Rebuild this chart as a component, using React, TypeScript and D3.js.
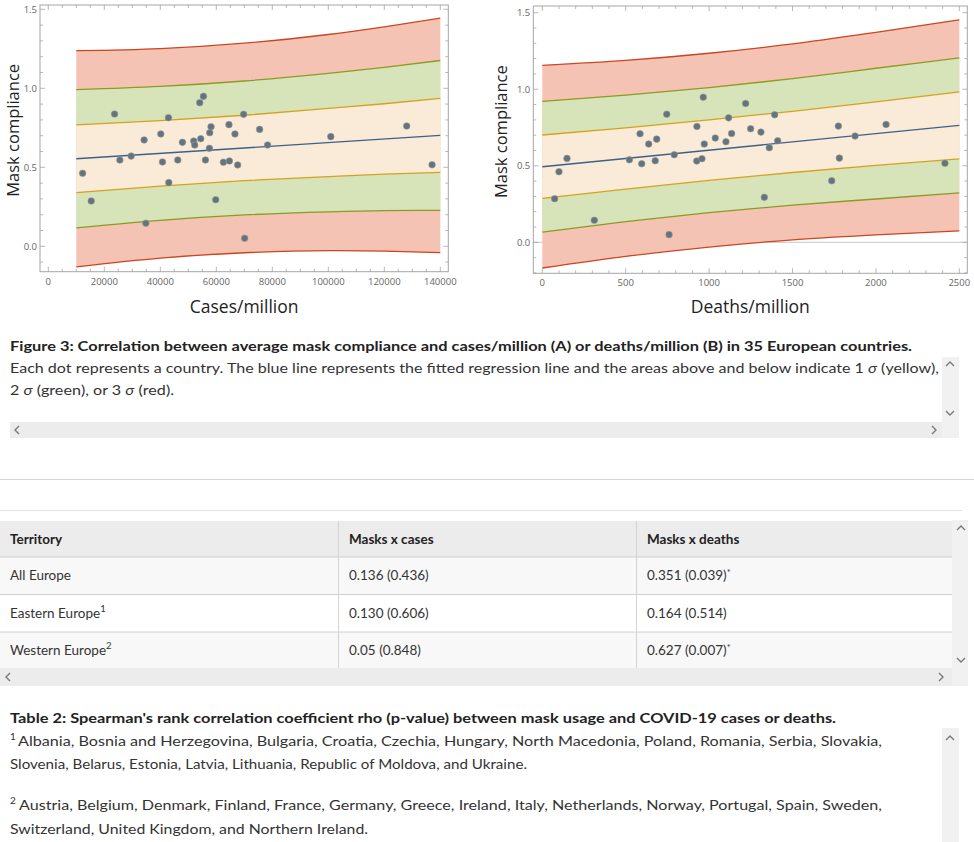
import React from "react";
import * as d3 from "d3";

// ---------- DATA ----------
const casesX = [12260, 15330, 23670, 25560, 29590, 34220, 34830, 40180, 40780, 42920, 43030, 46240, 47910, 51940, 52300, 54080, 55400, 54440, 56120, 57650, 58120, 57540, 59790, 62540, 64530, 64670, 66670, 67630, 69760, 70120, 75470, 78320, 100890, 128000, 137060];
const casesY = [0.462, 0.287, 0.837, 0.546, 0.571, 0.673, 0.146, 0.711, 0.534, 0.814, 0.403, 0.546, 0.658, 0.666, 0.641, 0.909, 0.949, 0.681, 0.546, 0.719, 0.757, 0.62, 0.295, 0.532, 0.77, 0.54, 0.711, 0.515, 0.835, 0.051, 0.74, 0.641, 0.694, 0.761, 0.516];

const deathsX = [74, 100, 148, 312, 522, 586, 596, 638, 677, 686, 746, 760, 791, 927, 926, 957, 965, 971, 1037, 1101, 1117, 1135, 1219, 1249, 1311, 1393, 1361, 1411, 1331, 1735, 1775, 1781, 1875, 2061, 2414];
const deathsY = [0.285, 0.461, 0.548, 0.144, 0.539, 0.709, 0.513, 0.642, 0.533, 0.674, 0.837, 0.05, 0.572, 0.757, 0.531, 0.546, 0.948, 0.642, 0.681, 0.657, 0.813, 0.711, 0.907, 0.742, 0.72, 0.833, 0.618, 0.663, 0.294, 0.402, 0.759, 0.55, 0.694, 0.77, 0.516];

// fitted regression line (value at first and last band x)
const casesBandX = [10000, 40000, 70000, 100000, 120000, 140000];
const casesFit = [0.554, 0.702];
const casesSigma1 = [0.214, 0.207, 0.207, 0.216, 0.223, 0.234];
const casesSigma2 = [0.438, 0.424, 0.424, 0.438, 0.453, 0.474];
const casesSigma3 = [0.684, 0.663, 0.663, 0.684, 0.71, 0.742];

const deathsBandX = [0, 500, 1000, 1500, 2000, 2500];
const deathsFit = [0.494, 0.764];
const deathsSigma1 = [0.207, 0.2, 0.198, 0.2, 0.207, 0.219];
const deathsSigma2 = [0.427, 0.413, 0.408, 0.413, 0.427, 0.441];
const deathsSigma3 = [0.662, 0.64, 0.633, 0.64, 0.662, 0.69];

const casesTicks = [0, 20000, 40000, 60000, 80000, 100000, 120000, 140000];
const deathsTicks = [0, 500, 1000, 1500, 2000, 2500];
const yTicks = [0, 0.5, 1.0, 1.5];

const tableHeader = ["Territory", "Masks x cases", "Masks x deaths"];
const tableTerritory = ["All Europe", "Eastern Europe", "Western Europe"];
const tableTerritorySup = ["", "1", "2"];
const tableCases = ["0.136 (0.436)", "0.130 (0.606)", "0.05 (0.848)"];
const tableDeaths = ["0.351 (0.039)", "0.164 (0.514)", "0.627 (0.007)"];
const tableDeathsStar = [true, false, true];

// ---------- STYLE ----------
const C = {
  redFill: "#f5c3b3",
  greenFill: "#d7e3b9",
  yellowFill: "#f9ebd7",
  redLine: "#cc4422",
  greenLine: "#8c9b22",
  yellowLine: "#d6a21e",
  blue: "#3f5f88",
  dot: "#66737b",
  frame: "#a6a6a6",
  tickText: "#666",
  text: "#333",
};
const CHART_FONT = "'Open Sans', 'DejaVu Sans', sans-serif";
const PAGE_FONT = "Lato, 'Open Sans', sans-serif";

type PanelProps = {
  frame: { l: number; r: number; t: number; b: number };
  xDomain: [number, number];
  xRange: [number, number];
  yRange: [number, number];
  xs: number[];
  ys: number[];
  bandX: number[];
  fit: number[];
  s1: number[];
  s2: number[];
  s3: number[];
  xTicks: number[];
  xMinorStep: number;
  xLabel: string;
  yLabelX: number;
  zeroLine: boolean;
};

function Panel(p: PanelProps) {
  const x = d3.scaleLinear().domain(p.xDomain).range(p.xRange);
  const y = d3.scaleLinear().domain([0, 1.5]).range(p.yRange);
  const center = d3
    .scaleLinear()
    .domain([p.bandX[0], p.bandX[p.bandX.length - 1]])
    .range(p.fit);
  const idx = p.bandX.map((_, i) => i);
  const area = (s: number[]) =>
    d3
      .area<number>()
      .x((i) => x(p.bandX[i]))
      .y0((i) => y(center(p.bandX[i]) - s[i]))
      .y1((i) => y(center(p.bandX[i]) + s[i]))
      .curve(d3.curveMonotoneX)(idx) || "";
  const edge = (s: number[], sign: number) =>
    d3
      .line<number>()
      .x((i) => x(p.bandX[i]))
      .y((i) => y(center(p.bandX[i]) + sign * s[i]))
      .curve(d3.curveMonotoneX)(idx) || "";

  const { l, r, t, b } = p.frame;
  const xMin = x.invert(l);
  const xMax = x.invert(r);
  const xMinor = d3.range(Math.ceil(xMin / p.xMinorStep) * p.xMinorStep, xMax, p.xMinorStep);
  const yMin = y.invert(b);
  const yMax = y.invert(t);
  const yMinor = d3.range(Math.ceil(yMin * 10) / 10, yMax, 0.1).map((v) => Math.round(v * 10) / 10);
  const isMajorX = (v: number) => p.xTicks.some((m) => Math.abs(m - v) < 1e-6);
  const isMajorY = (v: number) => yTicks.some((m) => Math.abs(m - v) < 1e-6);

  return (
    <g>
      {p.zeroLine && (
        <line x1={l} x2={r} y1={y(0)} y2={y(0)} stroke="#c8c8c8" strokeWidth={1} />
      )}
      <path d={area(p.s3)} fill={C.redFill} />
      <path d={area(p.s2)} fill={C.greenFill} />
      <path d={area(p.s1)} fill={C.yellowFill} />
      {[1, -1].map((sg) => (
        <g key={sg} fill="none" strokeWidth={1.3}>
          <path d={edge(p.s3, sg)} stroke={C.redLine} />
          <path d={edge(p.s2, sg)} stroke={C.greenLine} />
          <path d={edge(p.s1, sg)} stroke={C.yellowLine} />
        </g>
      ))}
      <line
        x1={x(p.bandX[0])}
        x2={x(p.bandX[p.bandX.length - 1])}
        y1={y(p.fit[0])}
        y2={y(p.fit[1])}
        stroke={C.blue}
        strokeWidth={1.4}
      />
      {p.xs.map((v, i) => (
        <circle key={i} cx={x(v)} cy={y(p.ys[i])} r={3.3} fill={C.dot} stroke="#8f999f" strokeWidth={0.6} />
      ))}
      {/* frame */}
      <rect x={l} y={t} width={r - l} height={b - t} fill="none" stroke={C.frame} strokeWidth={1} />
      {xMinor.map((v) => {
        const len = isMajorX(v) ? 5 : 3;
        return (
          <g key={"xt" + v} stroke={C.frame} strokeWidth={0.8}>
            <line x1={x(v)} x2={x(v)} y1={b} y2={b - len} />
            <line x1={x(v)} x2={x(v)} y1={t} y2={t + len} />
          </g>
        );
      })}
      {yMinor.map((v) => {
        const len = isMajorY(v) ? 5 : 3;
        return (
          <g key={"yt" + v} stroke={C.frame} strokeWidth={0.8}>
            <line x1={l} x2={l + len} y1={y(v)} y2={y(v)} />
            <line x1={r} x2={r - len} y1={y(v)} y2={y(v)} />
          </g>
        );
      })}
      {p.xTicks.map((v) => (
        <text key={"xl" + v} x={x(v)} y={b + 13} textAnchor="middle" fontSize={9.5} fill={C.tickText} fontFamily={CHART_FONT}>
          {v}
        </text>
      ))}
      {yTicks.map((v) => (
        <text key={"yl" + v} x={l - 3} y={y(v) + 3.3} textAnchor="end" fontSize={9.5} fill={C.tickText} fontFamily={CHART_FONT}>
          {v.toFixed(1)}
        </text>
      ))}
      <text x={(p.frame.l + p.frame.r) / 2} y={313} textAnchor="middle" fontSize={17.5} fill="#222" fontFamily={CHART_FONT}>
        {p.xLabel}
      </text>
      <text
        transform={`translate(${p.yLabelX},${(t + b) / 2 - 8}) rotate(-90)`}
        textAnchor="middle"
        fontSize={16.5}
        fill="#222"
        fontFamily={CHART_FONT}
      >
        Mask compliance
      </text>
    </g>
  );
}

function Chevron({ x, y, dir }: { x: number; y: number; dir: "up" | "down" | "left" | "right" }) {
  let d = "";
  if (dir === "up") d = `M${x - 4},${y + 2} L${x},${y - 2} L${x + 4},${y + 2}`;
  if (dir === "down") d = `M${x - 4},${y - 2} L${x},${y + 2} L${x + 4},${y - 2}`;
  if (dir === "left") d = `M${x + 2},${y - 4} L${x - 2},${y} L${x + 2},${y + 4}`;
  if (dir === "right") d = `M${x - 2},${y - 4} L${x + 2},${y} L${x - 2},${y + 4}`;
  return <path d={d} fill="none" stroke="#7a7a7a" strokeWidth={1.4} />;
}

export default function App() {
  const rowTop = [557, 594.5, 632];
  const rowH = [37.5, 37.5, 36];
  const colX = [10, 349, 647];
  return (
    <svg
      width={974}
      height={842}
      style={{ position: "absolute", left: 0, top: 0, background: "#fff" }}
      fontFamily={PAGE_FONT}
    >
      <rect x={0} y={0} width={974} height={842} fill="#fff" />
      <Panel
        frame={{ l: 40, r: 448.3, t: 5, b: 271.7 }}
        xDomain={[0, 140000]}
        xRange={[48.3, 440.3]}
        yRange={[246.3, 9.3]}
        xs={casesX}
        ys={casesY}
        bandX={casesBandX}
        fit={casesFit}
        s1={casesSigma1}
        s2={casesSigma2}
        s3={casesSigma3}
        xTicks={casesTicks}
        xMinorStep={5000}
        xLabel="Cases/million"
        yLabelX={18.5}
        zeroLine={false}
      />
      <Panel
        frame={{ l: 533.3, r: 967.3, t: 6, b: 273.3 }}
        xDomain={[0, 2500]}
        xRange={[542.3, 959.3]}
        yRange={[242.3, 12.7]}
        xs={deathsX}
        ys={deathsY}
        bandX={deathsBandX}
        fit={deathsFit}
        s1={deathsSigma1}
        s2={deathsSigma2}
        s3={deathsSigma3}
        xTicks={deathsTicks}
        xMinorStep={100}
        xLabel="Deaths/million"
        yLabelX={507}
        zeroLine={true}
      />

      {/* Figure caption */}
      <rect x={942} y={357} width={17} height={81} fill="#f1f1f1" />
      <rect x={10} y={422} width={932} height={16} fill="#ececec" />
      <Chevron x={950} y={364} dir="up" />
      <Chevron x={950} y={413} dir="down" />
      <Chevron x={17} y={430} dir="left" />
      <Chevron x={934} y={430} dir="right" />
      <text x={10} y={351} fontSize={14} fontWeight="bold" fill="#222" textLength={902} lengthAdjust="spacingAndGlyphs">
        Figure 3: Correlation between average mask compliance and cases/million (A) or deaths/million (B) in 35 European countries.
      </text>
      <text x={10} y={373} fontSize={14} fill={C.text} textLength={929} lengthAdjust="spacingAndGlyphs">
        Each dot represents a country. The blue line represents the fitted regression line and the areas above and below indicate 1{" "}
        <tspan fontStyle="italic">σ</tspan> (yellow),
      </text>
      <text x={10} y={395} fontSize={14} fill={C.text} textLength={164} lengthAdjust="spacingAndGlyphs">
        2 <tspan fontStyle="italic">σ</tspan> (green), or 3 <tspan fontStyle="italic">σ</tspan> (red).
      </text>

      {/* separators */}
      <line x1={0} x2={974} y1={479.5} y2={479.5} stroke="#d6d6d6" />
      <line x1={0} x2={962} y1={510.5} y2={510.5} stroke="#e2e2e2" />

      {/* Table */}
      <rect x={0} y={521} width={952} height={36} fill="#ececec" />
      {rowTop.map((rt, i) => (
        <rect key={"row" + i} x={0} y={rt} width={952} height={rowH[i]} fill={i === 1 ? "#ffffff" : "#f8f8f8"} />
      ))}
      {rowTop.map((rt, i) => (
        <line key={"rl" + i} x1={0} x2={952} y1={rt} y2={rt} stroke="#d0d0d0" />
      ))}
      <line x1={338.5} x2={338.5} y1={521} y2={668} stroke="#d4d4d4" />
      <line x1={636.5} x2={636.5} y1={521} y2={668} stroke="#d4d4d4" />
      <rect x={952} y={520} width={16} height={166} fill="#f1f1f1" />
      <rect x={0} y={668} width={952} height={18} fill="#ececec" />
      <Chevron x={961} y={528} dir="up" />
      <Chevron x={961} y={660} dir="down" />
      <Chevron x={8} y={677} dir="left" />
      <Chevron x={941} y={677} dir="right" />
      {tableHeader.map((h, i) => (
        <text key={"th" + i} x={colX[i]} y={544} fontSize={13.5} fontWeight="bold" fill="#222">
          {h}
        </text>
      ))}
      {tableTerritory.map((tname, i) => (
        <g key={"tr" + i} fontSize={13.5} fill={C.text}>
          <text x={colX[0]} y={rowTop[i] + 23}>
            {tname}
            {tableTerritorySup[i] && (
              <tspan dy={-6} fontSize={9.5}>
                {tableTerritorySup[i]}
              </tspan>
            )}
          </text>
          <text x={colX[1]} y={rowTop[i] + 23}>
            {tableCases[i]}
          </text>
          <text x={colX[2]} y={rowTop[i] + 23}>
            {tableDeaths[i]}
            {tableDeathsStar[i] && (
              <tspan dy={-4} fontSize={9}>
                *
              </tspan>
            )}
          </text>
        </g>
      ))}

      {/* Table footnotes */}
      <rect x={942} y={728} width={17} height={114} fill="#f1f1f1" />
      <Chevron x={950} y={738} dir="up" />
      <text x={10} y={723} fontSize={14} fontWeight="bold" fill="#222" textLength={826} lengthAdjust="spacingAndGlyphs">
        Table 2: Spearman's rank correlation coefficient rho (p-value) between mask usage and COVID-19 cases or deaths.
      </text>
      <text x={10} y={740} fontSize={10} fill={C.text}>1</text>
      <text x={18} y={746} fontSize={14} fill={C.text} textLength={864} lengthAdjust="spacingAndGlyphs">
        Albania, Bosnia and Herzegovina, Bulgaria, Croatia, Czechia, Hungary, North Macedonia, Poland, Romania, Serbia, Slovakia,
      </text>
      <text x={10} y={769} fontSize={14} fill={C.text} textLength={517} lengthAdjust="spacingAndGlyphs">
        Slovenia, Belarus, Estonia, Latvia, Lithuania, Republic of Moldova, and Ukraine.
      </text>
      <text x={10} y={804} fontSize={10} fill={C.text}>2</text>
      <text x={19} y={810} fontSize={14} fill={C.text} textLength={863} lengthAdjust="spacingAndGlyphs">
        Austria, Belgium, Denmark, Finland, France, Germany, Greece, Ireland, Italy, Netherlands, Norway, Portugal, Spain, Sweden,
      </text>
      <text x={10} y={834} fontSize={14} fill={C.text} textLength={358} lengthAdjust="spacingAndGlyphs">
        Switzerland, United Kingdom, and Northern Ireland.
      </text>
    </svg>
  );
}
